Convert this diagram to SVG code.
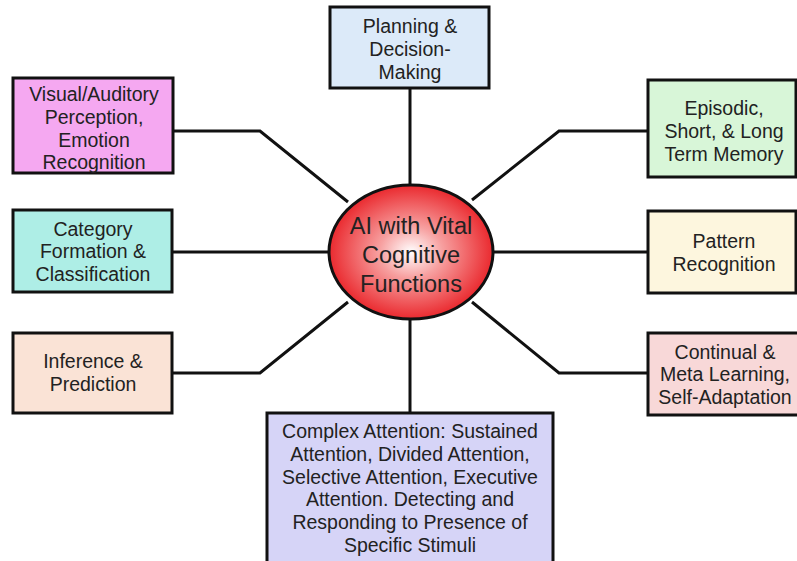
<svg xmlns="http://www.w3.org/2000/svg" width="797" height="561" viewBox="0 0 797 561">
<defs>
<radialGradient id="red" cx="0.5" cy="0.5" r="0.55">
<stop offset="0" stop-color="#ffffff"/>
<stop offset="0.35" stop-color="#f7a0a0"/>
<stop offset="1" stop-color="#e8161c"/>
</radialGradient>
</defs>
<style>
.box{stroke:#111;stroke-width:3}
.t{font-family:"Liberation Sans",Arial,sans-serif;font-size:19.5px;fill:#222;text-anchor:middle}
.big{font-size:23.5px}
.c{fill:none;stroke:#111;stroke-width:3;stroke-linejoin:miter}
</style>
<rect width="797" height="561" fill="#fff"/>
<g id="connectors">
<path class="c" d="M410,88 V186"/>
<path class="c" d="M410,318 V413"/>
<path class="c" d="M173,252 H330"/>
<path class="c" d="M648,252 H493"/>
<path class="c" d="M173,131 H260 L348,202"/>
<path class="c" d="M173,373 H260 L348,302"/>
<path class="c" d="M648,131 H559 L472,200"/>
<path class="c" d="M648,373 H559 L472,302"/>
</g>
<g id="center">
<ellipse cx="411" cy="252" rx="82" ry="67" fill="url(#red)" stroke="#111" stroke-width="3"/>
<text class="t big" x="411" y="234">AI with Vital</text>
<text class="t big" x="411" y="263">Cognitive</text>
<text class="t big" x="411" y="292">Functions</text>
</g>
<g id="planning">
<rect class="box" x="330" y="7" width="159" height="81" fill="#dceaf9"/>
<text class="t" x="410" y="33">Planning &amp;</text>
<text class="t" x="410" y="56">Decision-</text>
<text class="t" x="410" y="79">Making</text>
</g>
<g id="visual">
<rect class="box" x="13" y="78" width="160" height="95" fill="#f5a8f1"/>
<text class="t" x="94" y="101">Visual/Auditory</text>
<text class="t" x="94" y="124">Perception,</text>
<text class="t" x="94" y="147">Emotion</text>
<text class="t" x="94" y="169">Recognition</text>
</g>
<g id="category">
<rect class="box" x="13" y="210" width="159" height="82" fill="#aeeee6"/>
<text class="t" x="93" y="236">Category</text>
<text class="t" x="93" y="258">Formation &amp;</text>
<text class="t" x="93" y="281">Classification</text>
</g>
<g id="inference">
<rect class="box" x="13" y="333" width="159" height="80" fill="#fae3d6"/>
<text class="t" x="93" y="368">Inference &amp;</text>
<text class="t" x="93" y="391">Prediction</text>
</g>
<g id="episodic">
<rect class="box" x="648" y="80" width="148" height="97" fill="#d8f6d8"/>
<text class="t" x="724" y="115">Episodic,</text>
<text class="t" x="724" y="138">Short, &amp; Long</text>
<text class="t" x="724" y="161">Term Memory</text>
</g>
<g id="pattern">
<rect class="box" x="648" y="211" width="148" height="82" fill="#fdf6de"/>
<text class="t" x="724" y="248">Pattern</text>
<text class="t" x="724" y="271">Recognition</text>
</g>
<g id="continual">
<rect class="box" x="648" y="333" width="152" height="82" fill="#f8d8d8"/>
<text class="t" x="725" y="359">Continual &amp;</text>
<text class="t" x="725" y="381">Meta Learning,</text>
<text class="t" x="725" y="404">Self-Adaptation</text>
</g>
<g id="complex">
<rect class="box" x="267" y="413" width="286" height="160" fill="#d6d4f7"/>
<text class="t" x="410" y="438">Complex Attention: Sustained</text>
<text class="t" x="410" y="461">Attention, Divided Attention,</text>
<text class="t" x="410" y="484">Selective Attention, Executive</text>
<text class="t" x="410" y="506">Attention. Detecting and</text>
<text class="t" x="410" y="529">Responding to Presence of</text>
<text class="t" x="410" y="552">Specific Stimuli</text>
</g>
</svg>
